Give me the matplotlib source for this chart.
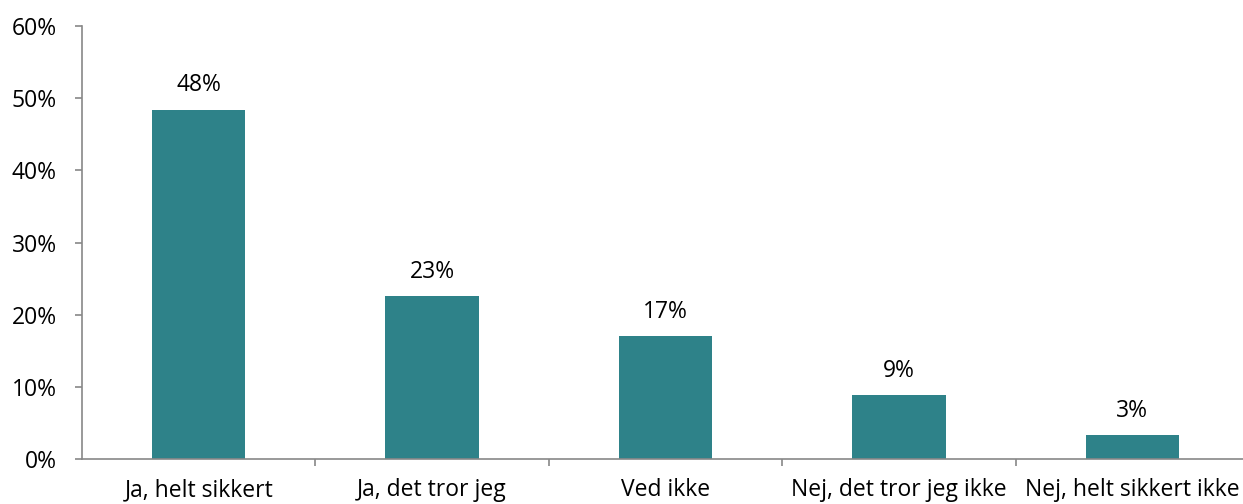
import matplotlib.pyplot as plt
from matplotlib.ticker import PercentFormatter

categories = ['Ja, helt sikkert', 'Ja, det tror jeg', 'Ved ikke', 'Nej, det tror jeg ikke', 'Nej, helt sikkert ikke']
values = [48.4, 22.6, 17.0, 8.9, 3.3]
labels = ['48%', '23%', '17%', '9%', '3%']

plt.rcParams['font.family'] = ['Open Sans', 'DejaVu Sans']
fs = 16.5

fig = plt.figure(figsize=(12.43, 5.04), dpi=100)
ax = fig.add_axes([82 / 1243, 45 / 504, 1167 / 1243, 433 / 504])

x = range(len(categories))
bars = ax.bar(x, values, width=0.4, color='#2E8289')

for xi, v, lab in zip(x, values, labels):
    ax.text(xi, v + 1.7, lab, ha='center', va='bottom', fontsize=fs)

ax.set_xlim(-0.5, len(categories) - 0.5)
ax.set_ylim(0, 60)
ax.set_yticks(range(0, 61, 10))
ax.yaxis.set_major_formatter(PercentFormatter(decimals=0))

ax.set_xticks([i + 0.5 for i in range(len(categories) - 1)], minor=False)
ax.set_xticklabels([])
ax.set_xticks(list(x), minor=True)
ax.set_xticklabels(categories, minor=True)
ax.tick_params(axis='x', which='minor', length=0, pad=14, labelsize=fs)
ax.tick_params(axis='x', which='major', length=5, color='#888888', width=1.2)
ax.tick_params(axis='y', length=5, color='#888888', width=1.2, labelsize=fs, pad=13)

for s in ['top', 'right']:
    ax.spines[s].set_visible(False)
for s in ['left', 'bottom']:
    ax.spines[s].set_color('#888888')
    ax.spines[s].set_linewidth(1.2)

fig.savefig('out.png', dpi=100)
